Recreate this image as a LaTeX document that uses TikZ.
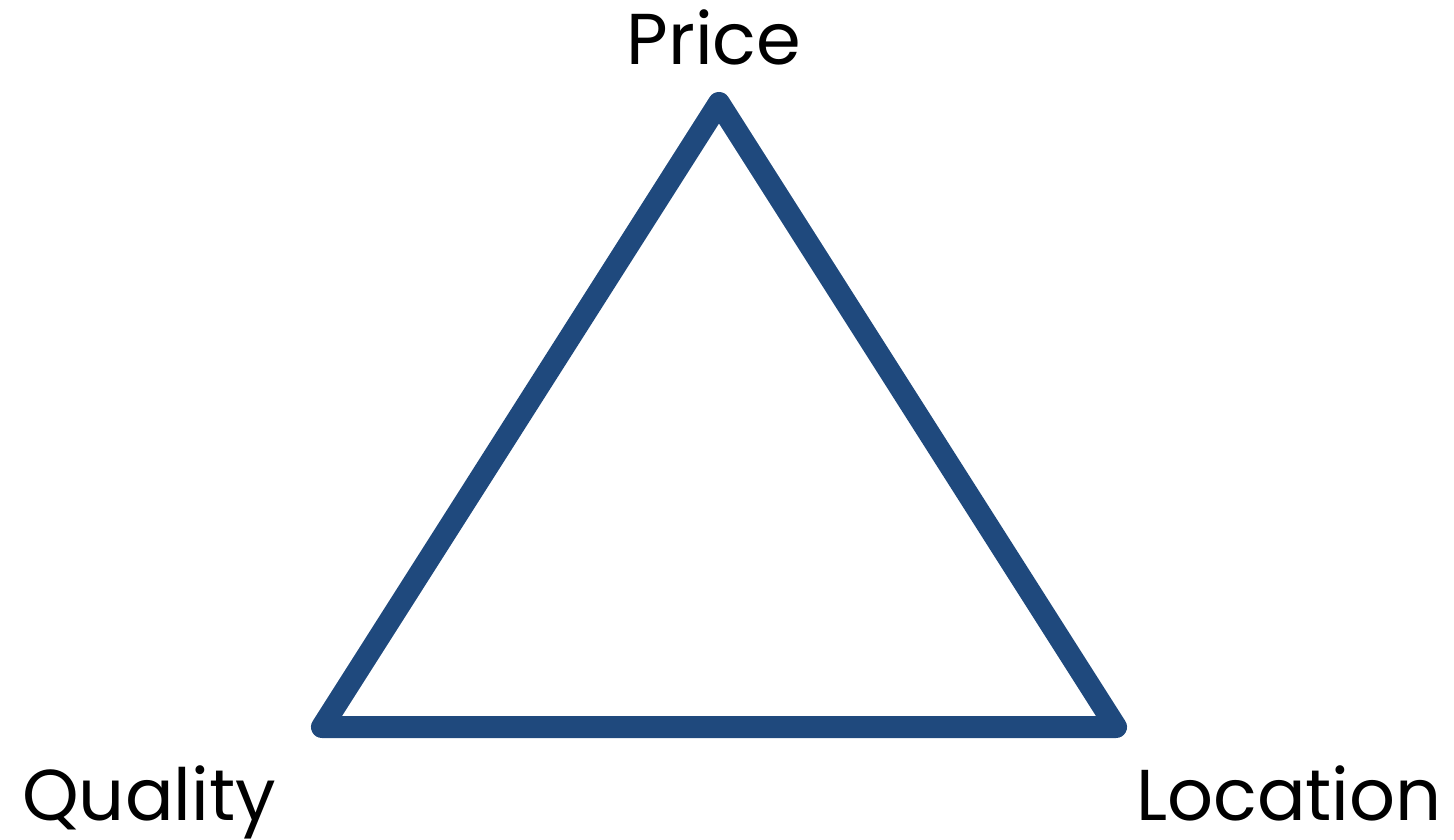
\documentclass[tikz,border=0pt]{standalone}
\usepackage{fontspec}
\setmainfont{Poppins}
\definecolor{triblue}{RGB}{31,73,125}
\begin{document}
\begin{tikzpicture}[x=1pt,y=1pt,
  lbl/.style={inner sep=0pt,font=\fontsize{72}{76}\selectfont,text=black},
  tri/.style={draw=triblue,line width=22pt,line join=round,line cap=round}]
\useasboundingbox (0,0) rectangle (1454,839);
\coordinate (P) at (719,736);
\coordinate (Q) at (322,112);
\coordinate (L) at (1116,112);
\draw[tri] (P) -- (L) -- (Q) -- cycle;
\node[lbl,anchor=base] (price) at (714,774) {Price};
\node[lbl,anchor=base west] (quality) at (22,19) {Quality};
\node[lbl,anchor=base east] (location) at (1442,19) {Location};
\end{tikzpicture}
\end{document}
